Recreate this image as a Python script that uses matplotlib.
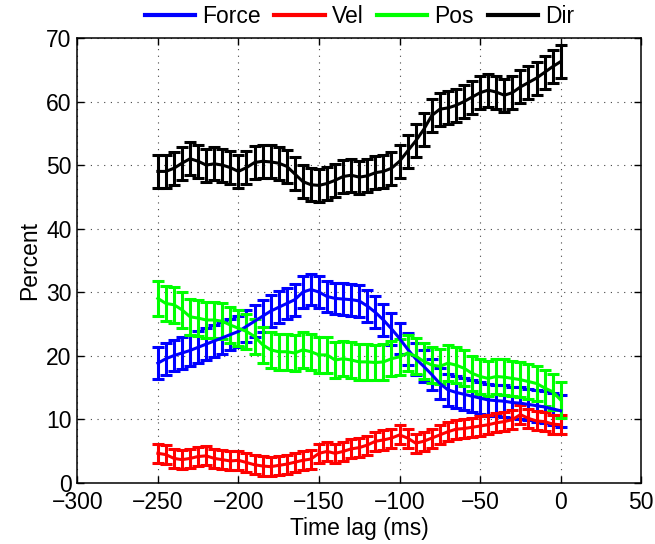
import matplotlib
matplotlib.use("Agg")
import matplotlib.pyplot as plt

plt.rcParams['font.family'] = ['Liberation Sans', 'DejaVu Sans']

# time lags (ms)
lags = [-250, -245, -240, -235, -230, -225, -220, -215, -210, -205,
        -200, -195, -190, -185, -180, -175, -170, -165, -160, -155,
        -150, -145, -140, -135, -130, -125, -120, -115, -110, -105,
        -100, -95, -90, -85, -80, -75, -70, -65, -60, -55,
        -50, -45, -40, -35, -30, -25, -20, -15, -10, -5, 0]

force = [18.8, 19.5, 20.0, 20.4, 20.8, 21.3, 21.8, 22.3, 22.8, 23.3,
         23.8, 24.6, 25.4, 26.2, 27.0, 27.6, 28.2, 28.8, 30.0, 30.4,
         30.0, 29.3, 29.0, 28.9, 28.8, 28.6, 27.8, 26.8, 25.6, 24.2,
         22.7, 21.0, 19.5, 18.3, 17.0, 15.6, 14.6, 14.2, 13.9, 13.6,
         13.3, 13.0, 12.9, 12.8, 12.6, 12.5, 12.3, 12.1, 11.9, 11.6, 11.3]

vel = [4.6, 4.4, 3.8, 3.6, 3.8, 4.1, 4.2, 3.8, 3.6, 3.4,
       3.5, 3.15, 2.8, 2.6, 2.5, 2.7, 2.9, 3.2, 3.5, 3.7,
       4.6, 4.9, 4.6, 4.9, 5.3, 5.5, 5.9, 6.5, 6.7, 7.0,
       7.5, 7.0, 6.2, 6.5, 7.0, 7.5, 8.0, 8.4, 8.5, 8.7,
       8.9, 9.1, 9.4, 9.6, 9.9, 10.7, 10.1, 9.7, 9.6, 9.2, 9.1]

pos = [29.0, 28.2, 28.0, 27.2, 26.1, 25.9, 25.6, 25.6, 25.4, 24.8,
       24.3, 23.8, 23.0, 21.7, 20.9, 20.6, 20.6, 20.4, 20.9, 20.6,
       20.1, 20.1, 19.3, 19.5, 19.3, 19.0, 19.0, 18.9, 19.0, 19.5,
       19.8, 20.4, 19.9, 19.1, 18.5, 18.3, 18.8, 18.5, 18.0, 17.2,
       16.7, 16.4, 16.7, 16.6, 16.4, 16.2, 15.9, 15.6, 14.9, 14.3, 13.0]

direc = [49.0, 49.0, 49.5, 50.3, 51.0, 50.6, 50.0, 50.2, 50.0, 49.6,
         49.0, 49.6, 50.4, 50.6, 50.5, 50.3, 49.8, 48.6, 47.4, 46.9,
         46.8, 47.1, 47.6, 48.2, 48.4, 48.1, 48.3, 48.8, 49.0, 49.5,
         50.6, 52.2, 53.8, 55.6, 57.8, 58.8, 59.0, 59.4, 60.0, 60.7,
         61.4, 61.8, 61.5, 61.0, 61.4, 62.3, 63.0, 63.7, 64.6, 65.5, 66.3]

force_err = 2.5
vel_err = 1.5
pos_err = 2.8
dir_err = 2.6

series = [("Force", force, force_err, "#0000ff"),
          ("Vel", vel, vel_err, "#ff0000"),
          ("Pos", pos, pos_err, "#00ff00"),
          ("Dir", direc, dir_err, "#000000")]

fig = plt.figure(figsize=(6.55, 5.44), dpi=100)
ax = fig.add_axes([0.118, 0.113, 0.861, 0.817])

for name, vals, err, col in series:
    ax.errorbar(lags, vals, yerr=err, color=col, lw=2.2, elinewidth=2.2,
                capsize=4, capthick=2.2, label=name)

ax.set_xlim(-300, 50)
ax.set_ylim(0, 70)
ax.set_xticks([-300, -250, -200, -150, -100, -50, 0, 50])
ax.set_yticks([0, 10, 20, 30, 40, 50, 60, 70])
ax.grid(True, linestyle=(0, (1, 5)), color="#444444", linewidth=0.8)
ax.tick_params(direction="in", top=True, right=True, length=5, width=1,
               labelsize=16.5)
ax.tick_params(axis="x", pad=6)
ax.tick_params(axis="y", pad=4)
for s in ax.spines.values():
    s.set_linewidth(1.1)

ax.set_xlabel("Time lag (ms)", fontsize=16.5, labelpad=2)
ax.set_ylabel("Percent", fontsize=16.5, labelpad=4)

labels = [s[0] for s in series]
handles = [plt.Line2D([], [], color=c, lw=3) for _, _, _, c in series]
ax.legend(handles, labels, loc="center", bbox_to_anchor=(0.5, 1.048),
          ncol=4, frameon=False, fontsize=16.5, handlelength=2.2,
          handletextpad=0.3, columnspacing=0.6, borderaxespad=0)

fig.savefig("out.png", dpi=100)
